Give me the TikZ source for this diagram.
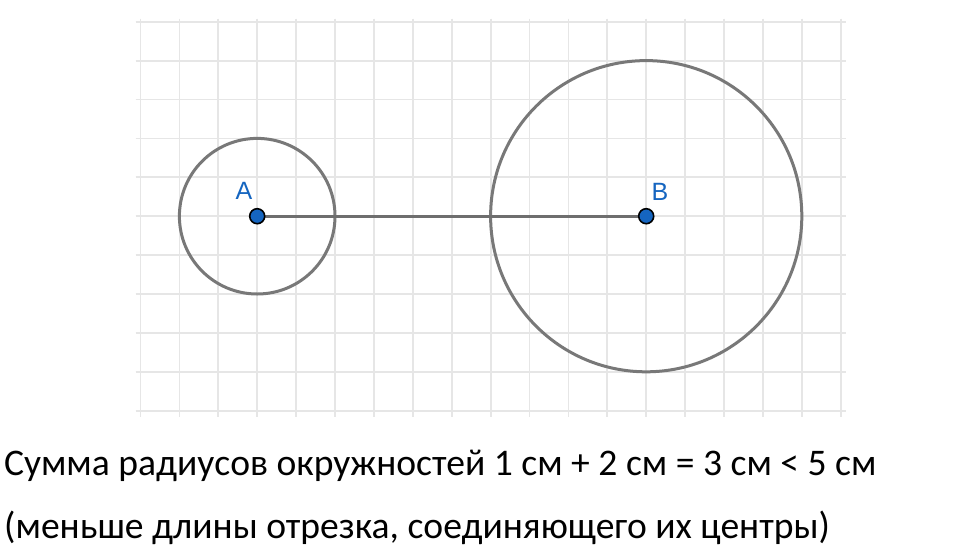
\documentclass[tikz,border=0pt]{standalone}
\usepackage{fontspec}
\setmainfont{Carlito}
\newfontfamily\labelfont{Liberation Sans}
\definecolor{gridgray}{RGB}{230,230,230}
\definecolor{circgray}{RGB}{120,120,120}
\definecolor{seggray}{RGB}{110,110,110}
\definecolor{ptblue}{RGB}{21,101,192}
\begin{document}
\begin{tikzpicture}[x=1pt,y=-1pt,
  gridline/.style={draw=gridgray,line width=1.8pt},
  circline/.style={draw=circgray,line width=3pt},
  segline/.style={draw=seggray,line width=3pt},
  pt/.style={circle,fill=ptblue,draw=black,line width=1.6pt,inner sep=0pt,minimum size=15pt},
  ptlabel/.style={text=ptblue,font=\labelfont\fontsize{25}{25}\selectfont,inner sep=0pt},
  caption/.style={font=\fontsize{37.6}{40}\selectfont,inner sep=0pt,anchor=base west}]
\useasboundingbox[fill=white] (0,0) rectangle (960,552);
\def\xo{140.5}\def\yo{21.7}\def\cc{38.9}
% grid
\foreach \i in {0,...,18}{
  \draw[gridline] ({\xo+\i*\cc},{\yo-3}) -- ({\xo+\i*\cc},{\yo+10*\cc+6});
}
\foreach \j in {0,...,10}{
  \draw[gridline] ({\xo-5},{\yo+\j*\cc}) -- ({\xo+18*\cc+5},{\yo+\j*\cc});
}
\coordinate (Ac) at ({\xo+3*\cc},{\yo+5*\cc});
\coordinate (Bc) at ({\xo+13*\cc},{\yo+5*\cc});
% circles
\draw[circline] (Ac) circle[radius={2*\cc}];
\draw[circline] (Bc) circle[radius={4*\cc}];
% segment
\draw[segline] (Ac) -- (Bc);
% points
\node[pt] (A) at (Ac) {};
\node[pt] (B) at (Bc) {};
\node[ptlabel] (lA) at (244,190.5) {A};
\node[ptlabel] (lB) at (660,192) {B};
% captions
\node[caption] (t1) at (4,475) {Сумма радиусов окружностей 1 см + 2 см = 3 см < 5 см};
\node[caption] (t2) at (4,538) {(меньше длины отрезка, соединяющего их центры)};
\end{tikzpicture}
\end{document}
